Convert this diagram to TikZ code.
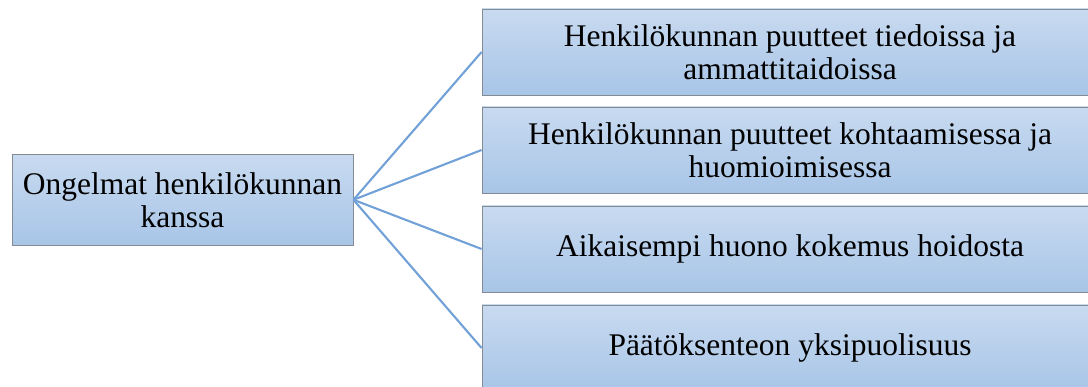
\documentclass[tikz,border=0pt]{standalone}
\usepackage{fontspec}
\setmainfont{Liberation Serif}
\usepackage{xcolor}
\usepackage{tikz}
\usetikzlibrary{positioning,calc}

\definecolor{boxtop}{HTML}{C8DAF0}
\definecolor{boxbot}{HTML}{A8C5E7}
\definecolor{boxedge}{HTML}{858B93}
\definecolor{linkblue}{HTML}{72A1D8}

\begin{document}
\begin{tikzpicture}[
  probbox/.style={draw=boxedge, line width=0.6pt, rectangle, top color=boxtop, bottom color=boxbot,
    align=center, font=\rmfamily\fontsize{22.4}{23.5}\selectfont, inner sep=0pt},
  mainbox/.style={probbox, minimum width=8.525cm, minimum height=2.275cm},
  subbox/.style={probbox, minimum width=15.4cm, minimum height=2.15cm},
  link/.style={draw=linkblue, line width=1.5pt}
]
\useasboundingbox (0,0) rectangle (27.2,9.675);
\node[mainbox] (main) at (4.5625,4.68) {Ongelmat henkilökunnan\\kanssa};
\node[subbox] (s1) at (19.75,8.375) {Henkilökunnan puutteet tiedoissa ja\\ammattitaidoissa};
\node[subbox] (s2) at (19.75,5.925) {Henkilökunnan puutteet kohtaamisessa ja\\huomioimisessa};
\node[subbox] (s3) at (19.75,3.45) {Aikaisempi huono kokemus hoidosta};
\node[subbox] (s4) at (19.75,0.975) {Päätöksenteon yksipuolisuus};
\draw[link] (main.east) -- (s1.west);
\draw[link] (main.east) -- (s2.west);
\draw[link] (main.east) -- (s3.west);
\draw[link] (main.east) -- (s4.west);
\end{tikzpicture}
\end{document}
